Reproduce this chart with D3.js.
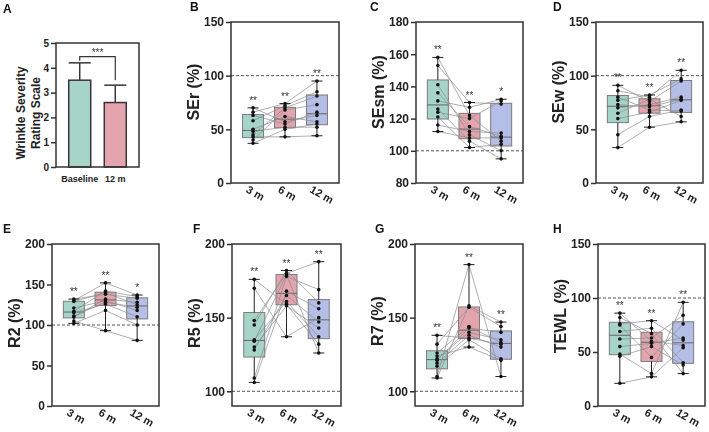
<!DOCTYPE html>
<html>
<head>
<meta charset="utf-8">
<script src="https://cdn.jsdelivr.net/npm/d3@7"></script>
<style>
body { margin: 0; background: #fff; -webkit-font-smoothing: antialiased; }
svg { font-family: "Liberation Sans", Arial, sans-serif; font-weight: bold; }
.stars { font-size: 10px; font-weight: normal; fill: #333; opacity: 0.99; will-change: transform; }
</style>
</head>
<body>
<svg id="fig" width="709" height="432"></svg>
<script>
// ---- data ----
var groups = ["3 m", "6 m", "12 m"];
var boxColors = ["#a6d4c6", "#e3a4ad", "#b5bee6"];

// panel A, bars
var barCats = ["Baseline", "12 m"];
var barMeans = [3.5, 2.6];
var barSD = [0.7, 0.7];

// box panels: one array per time point, same index = same subject
var seR = [
  [70, 66, 63, 58, 50, 48, 45, 43, 40, 37],
  [57, 74, 55, 72, 62, 52, 70, 43, 68, 50],
  [63, 95, 66, 85, 57, 52, 81, 44, 73, 55]
];
var seSm = [
  [158, 153, 141, 136, 131, 126, 124, 121, 116, 112],
  [122, 130, 110, 115, 127, 106, 120, 102, 112, 108],
  [106, 129, 100, 109, 132, 95, 131, 104, 111, 108]
];
var seW = [
  [91, 86, 80, 77, 73, 70, 65, 60, 45, 33],
  [76, 80, 68, 82, 71, 73, 78, 66, 62, 52],
  [95, 105, 67, 97, 78, 80, 62, 77, 68, 57]
];
var r2 = [
  [132, 130, 129, 121, 117, 115, 111, 110, 105, 102],
  [138, 152, 140, 130, 142, 126, 128, 132, 93, 118],
  [133, 137, 125, 118, 135, 110, 122, 128, 81, 100]
];
var r5 = [
  [176, 170, 148, 145, 135, 134, 130, 128, 109, 106],
  [159, 137, 180, 182, 161, 179, 158, 165, 178, 168],
  [132, 150, 188, 160, 137, 126, 143, 147, 169, 156]
];
var r7 = [
  [138, 132, 126, 124, 122, 121, 119, 117, 110, 109],
  [136, 157, 144, 130, 140, 143, 138, 135, 186, 158],
  [132, 144, 133, 121, 135, 140, 130, 122, 110, 147]
];
var tewl = [
  [86, 82, 76, 75, 69, 62, 55, 48, 46, 21],
  [60, 67, 79, 45, 72, 63, 58, 30, 55, 27],
  [56, 30, 61, 76, 40, 84, 63, 96, 38, 54]
];

var starsB = ["**", "**", "**"];
var starsC = ["**", "**", "*"];
var starsD = ["**", "**", "**"];
var starsE = ["**", "**", "*"];
var starsF = ["**", "**", "**"];
var starsG = ["**", "**", "**"];
var starsH = ["**", "**", "**"];

var panels = [
  {id: "B", label: "SEr (%)",  data: seR,  stars: starsB, domain: [0, 150],  ticks: [0, 50, 100, 150]},
  {id: "C", label: "SEsm (%)", data: seSm, stars: starsC, domain: [80, 180], ticks: [80, 100, 120, 140, 160, 180]},
  {id: "D", label: "SEw (%)",  data: seW,  stars: starsD, domain: [0, 150],  ticks: [0, 50, 100, 150]},
  {id: "E", label: "R2 (%)",   data: r2,   stars: starsE, domain: [0, 200],  ticks: [0, 50, 100, 150, 200]},
  {id: "F", label: "R5 (%)",   data: r5,   stars: starsF, domain: [90, 200], ticks: [100, 150, 200]},
  {id: "G", label: "R7 (%)",   data: r7,   stars: starsG, domain: [90, 200], ticks: [100, 150, 200]},
  {id: "H", label: "TEWL (%)", data: tewl, stars: starsH, domain: [0, 150],  ticks: [0, 50, 100, 150]}
];

// ---- layout (pixels) ----
var layout = {
  B: {x0: 231, x1: 339, y0: 22,  y1: 183, lx: 190, labY: 92},
  C: {x0: 416, x1: 523, y0: 22,  y1: 183, lx: 370, labY: 92},
  D: {x0: 596, x1: 703, y0: 22,  y1: 183, lx: 553, labY: 92},
  E: {x0: 52,  x1: 159, y0: 244, y1: 406, lx: 3,   labY: 323},
  F: {x0: 232, x1: 341, y0: 244, y1: 406, lx: 193, labY: 323},
  G: {x0: 415, x1: 523, y0: 244, y1: 406, lx: 375, labY: 321},
  H: {x0: 598, x1: 705, y0: 244, y1: 406, lx: 553, labY: 316}
};

var ink = "#333";
var svg = d3.select("#fig");

// GraphPad-like quartiles: position (n+1)p
function quart(sorted, p) {
  var n = sorted.length, pos = (n + 1) * p;
  if (pos <= 1) return sorted[0];
  if (pos >= n) return sorted[n - 1];
  var i = Math.floor(pos);
  return sorted[i - 1] + (pos - i) * (sorted[i] - sorted[i - 1]);
}

function yAxis(g, y, ticks, x0, size) {
  var ax = g.append("g")
      .attr("transform", "translate(" + x0 + ",0)")
      .call(d3.axisLeft(y).tickValues(ticks).tickSize(5).tickPadding(2).tickFormat(d3.format("d")));
  ax.select(".domain").remove();
  ax.selectAll("line").attr("stroke", ink).attr("stroke-width", 1.5);
  ax.selectAll("text").attr("fill", "#222").style("font-size", size + "px").style("font-weight", "bold")
      .style("font-family", '"Liberation Sans", Arial, sans-serif');
}

// ---- panel A ----
(function() {
  var x0 = 56, x1 = 139, y0 = 43, y1 = 167;
  var g = svg.append("g");
  var y = d3.scaleLinear().domain([0, 5]).range([y1, y0]);
  var x = d3.scalePoint().domain(barCats).range([x0, x1]).padding(0.667);
  var bw = 22;
  var barFill = [boxColors[0], boxColors[1]];

  // error bars (drawn first so the bar covers the lower half)
  barCats.forEach(function(c, i) {
    var cx = x(c);
    g.append("line").attr("x1", cx).attr("x2", cx)
      .attr("y1", y(barMeans[i])).attr("y2", y(barMeans[i] + barSD[i]))
      .attr("stroke", "#3b3434").attr("stroke-width", 1.5);
    g.append("line").attr("x1", cx - bw / 2).attr("x2", cx + bw / 2)
      .attr("y1", y(barMeans[i] + barSD[i])).attr("y2", y(barMeans[i] + barSD[i]))
      .attr("stroke", "#3b3434").attr("stroke-width", 1.5);
  });
  g.selectAll("rect.bar").data(barCats).enter().append("rect")
    .attr("x", function(d) { return x(d) - bw / 2; })
    .attr("width", bw)
    .attr("y", function(d, i) { return y(barMeans[i]); })
    .attr("height", function(d, i) { return y1 - y(barMeans[i]); })
    .attr("fill", function(d, i) { return barFill[i]; })
    .attr("stroke", "#3b3434").attr("stroke-width", 1.5);

  // frame
  g.append("rect").attr("x", x0).attr("y", y0).attr("width", x1 - x0).attr("height", y1 - y0)
    .attr("fill", "none").attr("stroke", ink).attr("stroke-width", 1.5);
  yAxis(g, y, [0, 1, 2, 3, 4, 5], x0, 10);

  // significance bracket
  var bl = y(4.45);
  var xa = x(barCats[0]), xb = x(barCats[1]);
  g.append("path")
    .attr("d", "M" + xa + "," + (y(barMeans[0] + barSD[0]) - 2) + "V" + bl + "H" + xb + "V" + (y(barMeans[1] + barSD[1]) - 5))
    .attr("fill", "none").attr("stroke", "#3b3434").attr("stroke-width", 1.2);
  g.append("text").attr("class", "stars").attr("x", (xa + xb) / 2).attr("y", bl - 1)
    .attr("text-anchor", "middle").text("***");

  barCats.forEach(function(c) {
    g.append("text").attr("x", x(c)).attr("y", y1 + 15).attr("text-anchor", "middle")
      .style("font-size", "9px").attr("fill", "#222").text(c);
  });

  var lab = g.append("text").attr("transform", "translate(27," + 113 + ") rotate(-90)")
    .attr("text-anchor", "middle").style("font-size", "12px").attr("fill", "#222");
  lab.append("tspan").attr("x", 0).attr("dy", "-0.15em").text("Wrinkle Severity");
  lab.append("tspan").attr("x", 0).attr("dy", "1.2em").text("Rating Scale");

  g.append("text").attr("x", 3).attr("y", 13).style("font-size", "12px").attr("fill", "#111").text("A");
})();

// ---- box panels ----
panels.forEach(function(p) {
  var L = layout[p.id];
  var g = svg.append("g");
  var y = d3.scaleLinear().domain(p.domain).range([L.y1, L.y0]);
  var x = d3.scalePoint().domain(groups).range([L.x0, L.x1]).padding(0.69);
  var bw = 21, cap = 9;

  // reference line at 100 %
  g.append("line").attr("x1", L.x0).attr("x2", L.x1).attr("y1", y(100)).attr("y2", y(100))
    .attr("stroke", "#555").attr("stroke-width", 1).attr("stroke-dasharray", "3,2");

  var stats = p.data.map(function(vals) {
    var s = vals.slice().sort(d3.ascending);
    return {min: s[0], max: s[s.length - 1], q1: quart(s, 0.25), med: quart(s, 0.5), q3: quart(s, 0.75)};
  });

  // boxes
  stats.forEach(function(s, i) {
    var cx = x(groups[i]);
    g.append("rect").attr("x", cx - bw / 2).attr("width", bw)
      .attr("y", y(s.q3)).attr("height", y(s.q1) - y(s.q3))
      .attr("fill", boxColors[i]).attr("stroke", "#7c7c7c").attr("stroke-width", 1);
    g.append("line").attr("x1", cx - bw / 2).attr("x2", cx + bw / 2)
      .attr("y1", y(s.med)).attr("y2", y(s.med)).attr("stroke", "#666").attr("stroke-width", 1);
  });

  // subject lines
  var n = p.data[0].length;
  var line = d3.line().x(function(d) { return x(d[0]); }).y(function(d) { return y(d[1]); });
  for (var k = 0; k < n; k++) {
    var pts = groups.map(function(gname, i) { return [gname, p.data[i][k]]; });
    g.append("path").attr("d", line(pts)).attr("fill", "none")
      .attr("stroke", "#8c8c8c").attr("stroke-width", 0.7);
  }

  // whiskers, points, stars
  stats.forEach(function(s, i) {
    var cx = x(groups[i]);
    g.append("line").attr("x1", cx).attr("x2", cx).attr("y1", y(s.min)).attr("y2", y(s.q1))
      .attr("stroke", "#222").attr("stroke-width", 1);
    g.append("line").attr("x1", cx).attr("x2", cx).attr("y1", y(s.q3)).attr("y2", y(s.max))
      .attr("stroke", "#222").attr("stroke-width", 1);
    [s.min, s.max].forEach(function(v) {
      g.append("line").attr("x1", cx - cap / 2 - 1).attr("x2", cx + cap / 2 + 1).attr("y1", y(v)).attr("y2", y(v))
        .attr("stroke", "#222").attr("stroke-width", 1);
    });
    g.selectAll(null).data(p.data[i]).enter().append("circle")
      .attr("cx", cx).attr("cy", function(d) { return y(d); }).attr("r", 1.8).attr("fill", "#111");
    g.append("text").attr("class", "stars").attr("x", cx).attr("y", y(s.max) - 4)
      .attr("text-anchor", "middle").text(p.stars[i]);
  });

  // frame + axis
  g.append("rect").attr("x", L.x0).attr("y", L.y0).attr("width", L.x1 - L.x0).attr("height", L.y1 - L.y0)
    .attr("fill", "none").attr("stroke", ink).attr("stroke-width", 1.5);
  yAxis(g, y, p.ticks, L.x0, 12);

  // rotated group labels
  groups.forEach(function(gname) {
    g.append("text").attr("transform", "translate(" + (x(gname) - 4) + "," + (L.y1 + 2) + ") rotate(30)")
      .attr("dy", "0.7em").style("font-size", "11px").attr("fill", "#222").text(gname);
  });

  g.append("text").attr("transform", "translate(" + (L.x0 - 32) + "," + L.labY + ") rotate(-90)")
    .attr("text-anchor", "middle").style("font-size", "16px").attr("fill", "#222").text(p.label);

  g.append("text").attr("x", L.lx).attr("y", L.y0 - 11).style("font-size", "12px").attr("fill", "#111").text(p.id);
});
</script>
</body>
</html>
